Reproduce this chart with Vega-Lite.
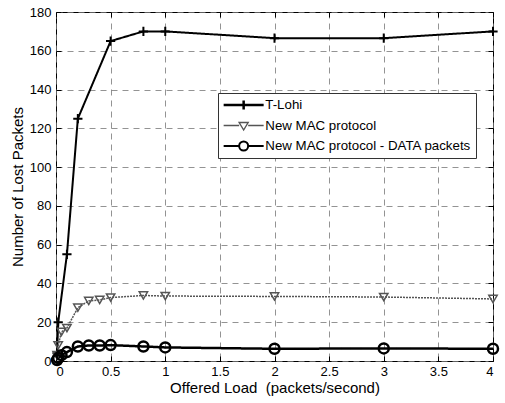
{
  "$schema": "https://vega.github.io/schema/vega-lite/v6.json",
  "width": 437,
  "height": 349,
  "autosize": {"type": "none"},
  "padding": {"left": 56, "top": 12, "right": 12, "bottom": 42},
  "background": "white",
  "config": {
    "font": "Liberation Sans",
    "view": {"stroke": "black", "strokeWidth": 1},
    "axis": {
      "grid": true,
      "gridColor": "#777777",
      "gridDash": [6, 5],
      "gridWidth": 0.8,
      "domain": false,
      "ticks": true,
      "tickColor": "black",
      "tickSize": -5,
      "labelFontSize": 13,
      "labelColor": "black",
      "labelFont": "Liberation Sans",
      "titleFont": "Liberation Sans",
      "titleFontSize": 15,
      "titleFontWeight": "normal",
      "titleColor": "black"
    }
  },
  "resolve": {"axis": {"x": "independent", "y": "independent"}},
  "data": {
    "values": [
      {"series": "T-Lohi", "load": 0.01, "lost": 4},
      {"series": "T-Lohi", "load": 0.02, "lost": 20},
      {"series": "T-Lohi", "load": 0.1, "lost": 55},
      {"series": "T-Lohi", "load": 0.2, "lost": 125},
      {"series": "T-Lohi", "load": 0.5, "lost": 165},
      {"series": "T-Lohi", "load": 0.8, "lost": 170},
      {"series": "T-Lohi", "load": 1, "lost": 170},
      {"series": "T-Lohi", "load": 2, "lost": 166.5},
      {"series": "T-Lohi", "load": 3, "lost": 166.5},
      {"series": "T-Lohi", "load": 4, "lost": 170},
      {"series": "New MAC protocol", "load": 0.01, "lost": 3},
      {"series": "New MAC protocol", "load": 0.02, "lost": 8},
      {"series": "New MAC protocol", "load": 0.05, "lost": 15},
      {"series": "New MAC protocol", "load": 0.1, "lost": 17},
      {"series": "New MAC protocol", "load": 0.2, "lost": 27.5},
      {"series": "New MAC protocol", "load": 0.3, "lost": 31},
      {"series": "New MAC protocol", "load": 0.4, "lost": 31.5},
      {"series": "New MAC protocol", "load": 0.5, "lost": 32.7},
      {"series": "New MAC protocol", "load": 0.8, "lost": 33.8},
      {"series": "New MAC protocol", "load": 1, "lost": 33.5},
      {"series": "New MAC protocol", "load": 2, "lost": 33.3},
      {"series": "New MAC protocol", "load": 3, "lost": 33},
      {"series": "New MAC protocol", "load": 4, "lost": 32},
      {"series": "New MAC protocol - DATA packets", "load": 0.01, "lost": 0.5},
      {"series": "New MAC protocol - DATA packets", "load": 0.02, "lost": 1.5},
      {"series": "New MAC protocol - DATA packets", "load": 0.05, "lost": 3},
      {"series": "New MAC protocol - DATA packets", "load": 0.1, "lost": 4.6},
      {"series": "New MAC protocol - DATA packets", "load": 0.2, "lost": 7.5},
      {"series": "New MAC protocol - DATA packets", "load": 0.3, "lost": 8},
      {"series": "New MAC protocol - DATA packets", "load": 0.4, "lost": 8},
      {"series": "New MAC protocol - DATA packets", "load": 0.5, "lost": 8.2},
      {"series": "New MAC protocol - DATA packets", "load": 0.8, "lost": 7.5},
      {"series": "New MAC protocol - DATA packets", "load": 1, "lost": 7},
      {"series": "New MAC protocol - DATA packets", "load": 2, "lost": 6.3},
      {"series": "New MAC protocol - DATA packets", "load": 3, "lost": 6.5},
      {"series": "New MAC protocol - DATA packets", "load": 4, "lost": 6.3}
    ]
  },
  "layer": [
    {
      "mark": {"type": "line"},
      "encoding": {
        "x": {
          "field": "load",
          "type": "quantitative",
          "scale": {"domain": [0, 4], "nice": false, "zero": false},
          "axis": {
            "values": [0, 0.5, 1, 1.5, 2, 2.5, 3, 3.5, 4],
            "format": "~g",
            "labelPadding": 9,
            "title": "Offered Load \u00a0(packets/second)",
            "titlePadding": 2
          }
        },
        "y": {
          "field": "lost",
          "type": "quantitative",
          "scale": {"domain": [0, 180], "nice": false},
          "axis": {
            "values": [0, 20, 40, 60, 80, 100, 120, 140, 160, 180],
            "labelPadding": 10,
            "title": "Number of Lost Packets",
            "titlePadding": 4
          }
        },
        "color": {
          "field": "series",
          "type": "nominal",
          "scale": {
            "domain": ["T-Lohi", "New MAC protocol", "New MAC protocol - DATA packets"],
            "range": ["#000000", "#555555", "#000000"]
          },
          "legend": {
            "orient": "none",
            "legendX": 162,
            "legendY": 81,
            "title": null,
            "fillColor": "white",
            "strokeColor": "#333333",
            "padding": 5,
            "rowPadding": 6.5,
            "clipHeight": 14,
            "symbolSize": 100,
            "symbolOffset": 14,
            "labelOffset": 15,
            "labelFontSize": 13.3,
            "labelColor": "black",
            "labelFont": "Liberation Sans",
            "labelLimit": 300,
            "encoding": {
              "symbols": {
                "shape": {"value": {"expr": "datum.value == 'T-Lohi' ? 'M-4,0H4M0,-0.9V0.9' : datum.value == 'New MAC protocol' ? 'M-4,0H-0.9M0.9,0H4M-0.9,-0.6L0.9,-0.6L0,0.9Z' : 'M-4,0H-0.9M0.9,0H4M0.9,0A0.9,0.9,0,1,1,-0.9,0A0.9,0.9,0,1,1,0.9,0'"}},
                "strokeWidth": {"value": {"expr": "datum.value == 'T-Lohi' ? 2.5 : datum.value == 'New MAC protocol' ? 1.4 : 2"}},
                "size": {"value": 100},
                "fill": {"value": "transparent"},
                "opacity": {"value": 1}
              }
            }
          }
        },
        "strokeWidth": {
          "field": "series",
          "type": "nominal",
          "scale": {
            "domain": ["New MAC protocol", "T-Lohi", "New MAC protocol - DATA packets"],
            "range": [1.5, 2.5, 2.2]
          },
          "legend": null
        },
        "strokeDash": {
          "field": "series",
          "type": "nominal",
          "scale": {
            "domain": ["New MAC protocol", "T-Lohi", "New MAC protocol - DATA packets"],
            "range": [[2, 1], [1, 0], [1, 0]]
          },
          "legend": null
        }
      }
    },
    {
      "mark": {"type": "point", "filled": false, "opacity": 1},
      "encoding": {
        "x": {
          "field": "load",
          "type": "quantitative",
          "axis": {
            "orient": "top",
            "values": [0, 0.5, 1, 1.5, 2, 2.5, 3, 3.5, 4],
            "labels": false,
            "grid": false,
            "title": null
          }
        },
        "y": {
          "field": "lost",
          "type": "quantitative",
          "axis": {
            "orient": "right",
            "values": [0, 20, 40, 60, 80, 100, 120, 140, 160, 180],
            "labels": false,
            "grid": false,
            "title": null
          }
        },
        "color": {
          "field": "series",
          "type": "nominal"
        },
        "strokeWidth": {
          "field": "series",
          "type": "nominal",
          "legend": null
        },
        "size": {
          "field": "series",
          "type": "nominal",
          "scale": {
            "domain": ["New MAC protocol", "T-Lohi", "New MAC protocol - DATA packets"],
            "range": [70, 100, 75]
          },
          "legend": null
        },
        "shape": {
          "field": "series",
          "type": "nominal",
          "scale": {
            "domain": ["New MAC protocol", "T-Lohi", "New MAC protocol - DATA packets"],
            "range": ["triangle-down", "M-1,0H1M0,-1V1", "circle"]
          },
          "legend": null
        }
      }
    }
  ]
}
